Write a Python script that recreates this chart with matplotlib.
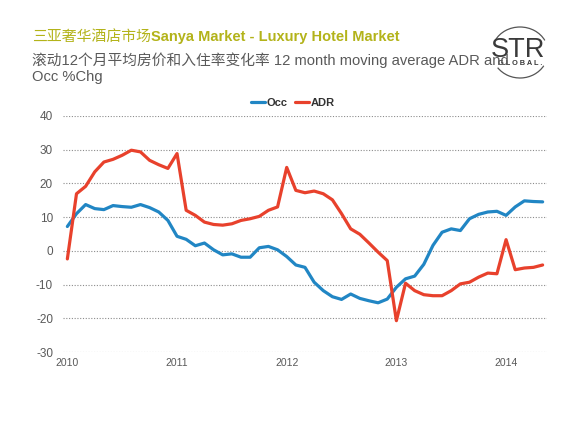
import matplotlib
matplotlib.use("Agg")
import matplotlib.pyplot as plt
from matplotlib.patches import Arc
import numpy as np

plt.rcParams['font.family'] = ['Liberation Sans', 'Noto Sans CJK SC', 'DejaVu Sans']

# monthly 12-month moving average % change, Jan 2010 - May 2014
occ = [7.2, 11.0, 13.7, 12.5, 12.2, 13.4, 13.1, 12.9, 13.7, 12.8, 11.5, 9.0,
       4.3, 3.4, 1.5, 2.3, 0.3, -1.2, -0.9, -1.9, -1.9, 0.9, 1.3, 0.3,
       -1.7, -4.2, -4.9, -9.3, -11.8, -13.6, -14.4, -12.8, -14.1, -14.8, -15.4, -14.3,
       -10.8, -8.3, -7.5, -4.0, 1.6, 5.5, 6.5, 6.0, 9.5, 10.8, 11.5, 11.7,
       10.5, 13.0, 14.8, 14.6, 14.5]
adr = [-2.4, 16.9, 19.1, 23.4, 26.3, 27.1, 28.3, 29.8, 29.3, 26.8, 25.5, 24.4,
       28.8, 12.0, 10.5, 8.5, 7.8, 7.6, 8.0, 9.0, 9.5, 10.2, 12.0, 13.0,
       24.7, 17.9, 17.2, 17.7, 16.9, 15.1, 11.0, 6.5, 4.9, 2.3, -0.4, -2.9,
       -20.7, -9.6, -11.8, -13.0, -13.3, -13.3, -11.8, -9.8, -9.3, -7.8, -6.6, -6.8,
       3.3, -5.6, -5.1, -4.9, -4.2]
years = ['2010', '2011', '2012', '2013', '2014']
yticks = [-30, -20, -10, 0, 10, 20, 30, 40]

blue = '#2186C4'
red = '#E8412C'
gray = '#595959'
olive = '#B3B31A'
logo = '#3a3a3a'

fig = plt.figure(figsize=(5.76, 4.32), dpi=100)
ax = fig.add_axes([0.109, 0.185, 0.841, 0.547])

x = np.arange(len(occ))
ax.plot(x, occ, color=blue, lw=2.3, label='Occ', solid_capstyle='round')
ax.plot(x, adr, color=red, lw=2.3, label='ADR', solid_capstyle='round')

ax.set_xlim(-0.5, len(occ) - 0.5)
ax.set_ylim(-30, 40)
ax.set_yticks(yticks)
ax.set_yticklabels([str(v) for v in yticks], fontsize=8.5, color=gray)
ax.set_xticks(np.arange(len(years)) * 12)
ax.set_xticklabels(years, fontsize=7.5, color=gray)
ax.tick_params(length=0, pad=4)
ax.tick_params(axis='y', pad=7)
ax.grid(axis='y', color='#8c8c8c', linestyle=(0, (1, 1.5)), lw=0.8)
for s in ax.spines.values():
    s.set_visible(False)
ax.set_axisbelow(True)

leg = ax.legend(loc='lower center', bbox_to_anchor=(0.475, 0.99), ncol=2, frameon=False,
                handlelength=1.3, handletextpad=0.15, columnspacing=0.6,
                prop={'weight': 'bold', 'size': 8})
for t in leg.get_texts():
    t.set_color('#333333')

# title: Chinese part, then English bold part right after it
t1 = fig.text(0.055, 0.914, '三亚奢华酒店市场', fontsize=10.7, color=olive, va='center',
              family=['Noto Sans CJK SC'])
r = fig.canvas.get_renderer()
bb = t1.get_window_extent(renderer=r)
fig.text(bb.x1 / fig.bbox.width + 0.001, 0.914, 'Sanya Market - Luxury Hotel Market',
         fontsize=10.5, color=olive, weight='bold', va='center')
fig.text(0.055, 0.861, '滚动12个月平均房价和入住率变化率 12 month moving average ADR and',
         fontsize=10.6, color=gray, va='center')
fig.text(0.055, 0.821, 'Occ %Chg', fontsize=10.6, color=gray, va='center')

# STR GLOBAL logo, drawn in pixel coordinates
lax = fig.add_axes([0, 0, 1, 1])
lax.set_xlim(0, 576)
lax.set_ylim(432, 0)
lax.axis('off')
lax.text(518, 57, 'STR', fontsize=19.5, color=logo, ha='center', va='baseline')
lax.text(520, 63.5, 'G L O B A L .', fontsize=5.3, color=logo, ha='center', va='center',
         weight='bold')
lax.add_patch(Arc((520, 52), 56, 50, theta1=205, theta2=335, color='#555555', lw=0.9))
lax.add_patch(Arc((520, 52), 56, 52, theta1=30, theta2=145, color='#555555', lw=0.9))

fig.savefig('out.png', dpi=100)
